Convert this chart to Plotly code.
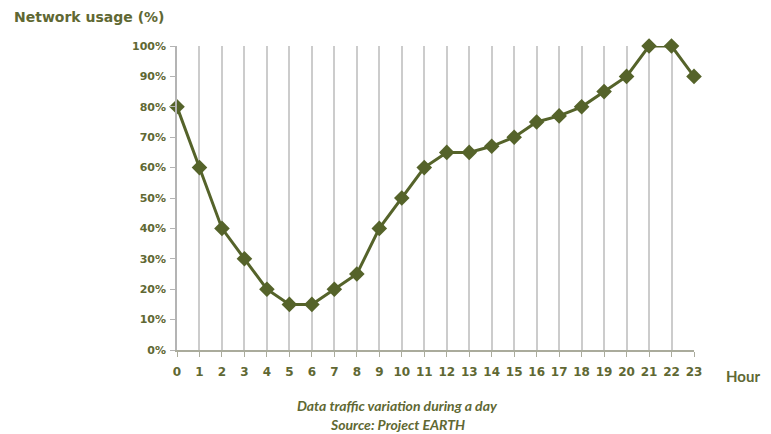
import plotly.graph_objects as go

hours = list(range(24))
usage = [80, 60, 40, 30, 20, 15, 15, 20, 25, 40, 50, 60, 65, 65, 67, 70, 75, 77, 80, 85, 90, 100, 100, 90]
y_ticks = [0, 10, 20, 30, 40, 50, 60, 70, 80, 90, 100]
y_labels = [f"{v}%" for v in y_ticks]

olive = "#55632a"
text_col = "#606833"

fig = go.Figure()
fig.add_trace(go.Scatter(
    x=hours, y=usage, mode="lines+markers",
    line=dict(color=olive, width=3),
    marker=dict(symbol="diamond", size=12, color=olive),
    cliponaxis=False, showlegend=False,
))

fig.update_layout(
    width=763, height=426,
    margin=dict(l=169, r=77, t=38, b=84),
    paper_bgcolor="white", plot_bgcolor="white",
    font=dict(family="DejaVu Sans", color=text_col),
    xaxis=dict(
        range=[0, 23], tickvals=hours, ticktext=[str(h) for h in hours],
        showgrid=True, gridcolor="#cccccc", gridwidth=1.5,
        showline=True, linecolor="#aaab9c", linewidth=1.5,
        ticks="outside", ticklen=5, tickcolor="#aaab9c",
        ticklabelstandoff=5,
        tickfont=dict(family="DejaVu Sans", size=12, color=text_col, weight="bold"),
        zeroline=False,
    ),
    yaxis=dict(
        range=[0, 100], tickvals=y_ticks, ticktext=y_labels,
        showgrid=False,
        showline=True, linecolor="#b4b4b4", linewidth=1.5,
        ticks="outside", ticklen=5, tickcolor="#b4b4b4",
        ticklabelstandoff=2,
        tickfont=dict(family="DejaVu Sans", size=11, color=text_col, weight="bold"),
        zeroline=False,
    ),
    annotations=[
        dict(text="<b>Network usage (%)</b>", xref="paper", yref="paper",
             x=(12 - 177) / 517, y=(350 - 17) / 304, xanchor="left", yanchor="middle",
             showarrow=False, font=dict(family="DejaVu Sans", size=14, color=text_col)),
        dict(text="<b>Hour</b>", xref="paper", yref="paper",
             x=(762 - 177) / 517, y=(350 - 376) / 304, xanchor="right", yanchor="middle",
             showarrow=False, font=dict(family="Lato", size=15, color=text_col)),
        dict(text="<b><i>Data traffic variation during a day</i></b>", xref="paper", yref="paper",
             x=(397 - 177) / 517, y=(350 - 405) / 304, xanchor="center", yanchor="middle",
             showarrow=False, font=dict(family="Lato", size=14, color=text_col)),
        dict(text="<b><i>Source: Project EARTH</i></b>", xref="paper", yref="paper",
             x=(397 - 177) / 517, y=(350 - 424) / 304, xanchor="center", yanchor="middle",
             showarrow=False, font=dict(family="Lato", size=14, color=text_col)),
    ],
)

fig.write_html("out.html")
